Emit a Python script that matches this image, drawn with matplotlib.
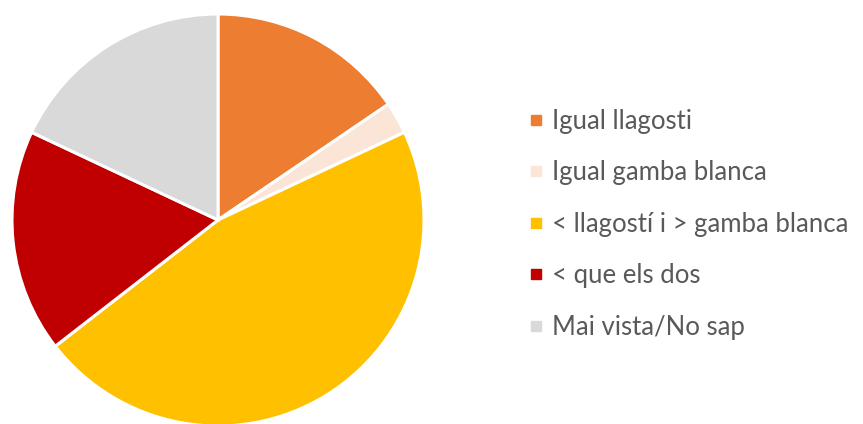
import matplotlib
matplotlib.use("Agg")
import matplotlib.pyplot as plt
from matplotlib.lines import Line2D

categories = ["Igual llagosti", "Igual gamba blanca", "< llagostí i > gamba blanca",
              "< que els dos", "Mai vista/No sap"]
values = [15.5, 2.5, 46.5, 17.5, 18.0]
colors = ["#ED7D31", "#FBE5D6", "#FFC000", "#C00000", "#D9D9D9"]

W, H = 863, 424
fig = plt.figure(figsize=(W / 100, H / 100), dpi=100)
cx, cy, r = 218, 220, 206
ax = fig.add_axes([(cx - r) / W, (H - cy - r) / H, 2 * r / W, 2 * r / H])
ax.pie(values, colors=colors, startangle=90, counterclock=False, radius=1,
       wedgeprops=dict(edgecolor="white", linewidth=2.2))
ax.set_xlim(-1, 1)
ax.set_ylim(-1, 1)
ax.set_aspect("equal")
ax.axis("off")

handles = [Line2D([], [], linestyle="none", marker="s", markersize=6.5,
                  markerfacecolor=c, markeredgecolor=c) for c in colors]
fig.legend(handles, categories, loc="upper left",
           bbox_to_anchor=(527 / W, 1 - 109 / H), frameon=False,
           prop=dict(family="Lato", size=18.5), labelcolor="#595959",
           labelspacing=1.03, handlelength=0.7, handletextpad=0.27,
           borderpad=0, borderaxespad=0)

fig.savefig("out.png", dpi=100, facecolor="white")
